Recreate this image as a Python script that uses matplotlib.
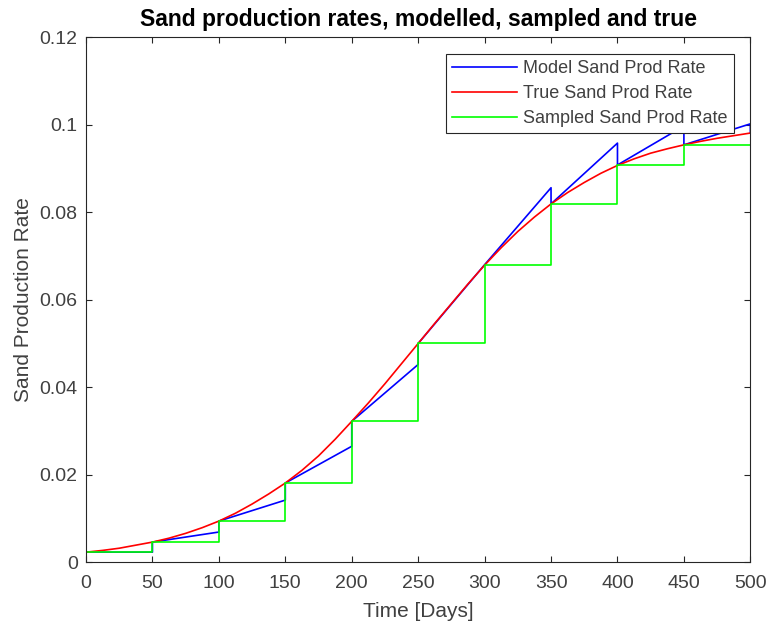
import matplotlib.pyplot as plt

# sample times (days) and the sampled (held) rate at each sample
sample_days = [0, 50, 100, 150, 200, 250, 300, 350, 400, 450, 500]
sampled_rate = [0.0023, 0.0046, 0.0094, 0.0181, 0.0322, 0.0500,
                0.0680, 0.0819, 0.0908, 0.0954, 0.0954]

# model value just before the next sample (end of each linear segment)
model_end_rate = [0.0023, 0.0069, 0.0142, 0.0265, 0.0452, 0.0680,
                  0.0856, 0.0958, 0.0997, 0.1002]
model_final = 0.0981

# true curve every 12.5 days
true_days = [0, 12.5, 25, 37.5, 50, 62.5, 75, 87.5, 100, 112.5, 125,
             137.5, 150, 162.5, 175, 187.5, 200, 212.5, 225, 237.5, 250,
             262.5, 275, 287.5, 300, 312.5, 325, 337.5, 350, 362.5, 375,
             387.5, 400, 412.5, 425, 437.5, 450, 462.5, 475, 487.5, 500]
true_rate = [0.0023, 0.0027, 0.0032, 0.0039, 0.0046, 0.0055, 0.0066,
             0.0079, 0.0094, 0.0112, 0.0133, 0.0156, 0.0181, 0.0210,
             0.0243, 0.0281, 0.0322, 0.0364, 0.0408, 0.0454, 0.0500,
             0.0546, 0.0591, 0.0636, 0.0679, 0.0719, 0.0756, 0.0789,
             0.0819, 0.0845, 0.0868, 0.0889, 0.0907, 0.0922, 0.0935,
             0.0945, 0.0954, 0.0962, 0.0969, 0.0975, 0.0981]

xticks = [0, 50, 100, 150, 200, 250, 300, 350, 400, 450, 500]
yticks = [0, 0.02, 0.04, 0.06, 0.08, 0.1, 0.12]
ytick_labels = ['0', '0.02', '0.04', '0.06', '0.08', '0.1', '0.12']

plt.rcParams['font.family'] = ['Liberation Sans', 'DejaVu Sans']
txt = '#262626'
lbl = '#404040'

fig = plt.figure(figsize=(7.68, 6.31), dpi=100)
ax = fig.add_axes([0.112, 0.109, 0.865, 0.832])

# model: linear segment from each sample, then a jump to the next sample
mx, my = [], []
for k in range(len(model_end_rate)):
    mx += [sample_days[k], sample_days[k + 1]]
    my += [sampled_rate[k], model_end_rate[k]]
mx.append(sample_days[-1])
my.append(model_final)

ax.plot(mx, my, color=(0, 0, 1), lw=1.2, label='Model Sand Prod Rate')
ax.plot(true_days, true_rate, color=(1, 0, 0), lw=1.2, label='True Sand Prod Rate')
ax.step(sample_days, sampled_rate, where='post', color=(0, 1, 0), lw=1.2,
        label='Sampled Sand Prod Rate')

ax.set_xlim(0, 500)
ax.set_ylim(0, 0.12)
ax.set_xticks(xticks)
ax.set_yticks(yticks)
ax.set_yticklabels(ytick_labels)
ax.tick_params(direction='in', top=True, right=True, labelsize=14,
               colors=txt, labelcolor=lbl, length=4.5)
ax.tick_params(axis='x', pad=9.5)
ax.tick_params(axis='y', pad=6)
for s in ax.spines.values():
    s.set_color(txt)
    s.set_linewidth(0.8)

ax.set_xlabel('Time [Days]', fontsize=15, color=lbl, labelpad=7)
ax.set_ylabel('Sand Production Rate', fontsize=15, color=lbl, labelpad=5)
ax.set_title('Sand production rates, modelled, sampled and true',
             fontsize=16.5, fontweight='bold', color='black', pad=8)

leg = ax.legend(loc='upper right', bbox_to_anchor=(0.975, 0.969), fontsize=13,
                fancybox=False, framealpha=1, edgecolor=txt, handlelength=3.6,
                handletextpad=0.3, borderpad=0.35, labelspacing=0.45,
                borderaxespad=0)
leg.get_frame().set_linewidth(0.8)
for t in leg.get_texts():
    t.set_color(lbl)

fig.savefig('out.png', dpi=100)
